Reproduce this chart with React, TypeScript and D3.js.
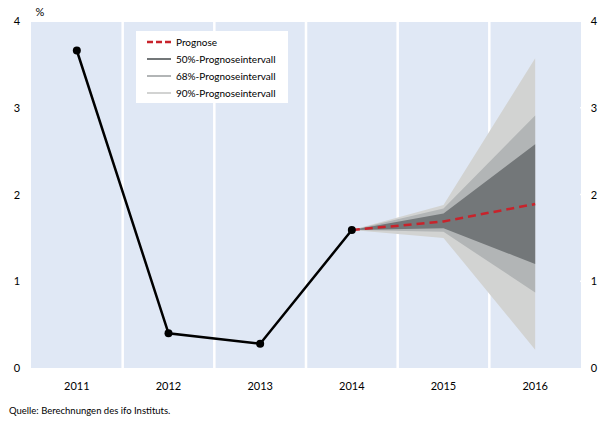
import * as d3 from "d3";
import { useEffect, useRef } from "react";

const years = ["2011", "2012", "2013", "2014", "2015", "2016"];
const actual = [3.66, 0.4, 0.28, 1.59];
const forecastYears = ["2014", "2015", "2016"];
const forecast = [1.59, 1.69, 1.89];
const band90 = [[1.59, 1.59], [1.5, 1.88], [0.21, 3.57]];
const band68 = [[1.59, 1.59], [1.57, 1.84], [0.87, 2.91]];
const band50 = [[1.59, 1.59], [1.61, 1.78], [1.2, 2.58]];
const yTicks = [0, 1, 2, 3, 4];
const legendItems = [
    { label: "Prognose", color: "#c8232b", dash: "6,3" },
    { label: "50%-Prognoseintervall", color: "#737779", dash: null },
    { label: "68%-Prognoseintervall", color: "#b2b5b6", dash: null },
    { label: "90%-Prognoseintervall", color: "#d2d3d2", dash: null },
];

const W = 600;
const H = 421;
const margin = { top: 22, right: 19, bottom: 53, left: 31 };
const font = "Lato, 'Open Sans', sans-serif";

const App = () => {
    const chartRef = useRef(null);

    useEffect(() => {
        const svg = d3.select(chartRef.current);
        svg.selectAll("*").remove();

        const x = d3.scaleBand().domain(years).range([margin.left, W - margin.right]);
        const y = d3.scaleLinear().domain([0, 4]).range([H - margin.bottom, 21]);
        const cx = (d) => x(d) + x.bandwidth() / 2;

        svg.append("rect")
            .attr("x", margin.left)
            .attr("y", margin.top)
            .attr("width", W - margin.left - margin.right)
            .attr("height", H - margin.top - margin.bottom)
            .style("fill", "#e0e8f5");

        // white separators between years
        svg.selectAll(".sep")
            .data(years.slice(1))
            .enter()
            .append("line")
            .attr("x1", d => x(d))
            .attr("x2", d => x(d))
            .attr("y1", margin.top)
            .attr("y2", H - margin.bottom)
            .style("stroke", "#fff")
            .style("stroke-width", 2.5);

        // little white ticks on the right edge
        svg.selectAll(".rtick")
            .data(yTicks.slice(1, 4))
            .enter()
            .append("line")
            .attr("x1", W - margin.right - 1)
            .attr("x2", W - margin.right + 3)
            .attr("y1", d => y(d))
            .attr("y2", d => y(d))
            .style("stroke", "#fff")
            .style("stroke-width", 1.5);

        const bands = [
            { data: band90, color: "#d2d3d2" },
            { data: band68, color: "#b2b5b6" },
            { data: band50, color: "#737779" },
        ];
        bands.forEach(b => {
            const area = d3.area()
                .x((d, i) => cx(forecastYears[i]))
                .y0(d => y(d[0]))
                .y1(d => y(d[1]));
            svg.append("path")
                .attr("d", area(b.data))
                .style("fill", b.color);
        });

        const line = d3.line()
            .x((d, i) => cx(years[i]))
            .y(d => y(d));
        svg.append("path")
            .attr("d", line(actual))
            .style("fill", "none")
            .style("stroke", "#000")
            .style("stroke-width", 2.5);

        const fLine = d3.line()
            .x((d, i) => cx(forecastYears[i]))
            .y(d => y(d));
        svg.append("path")
            .attr("d", fLine(forecast))
            .style("fill", "none")
            .style("stroke", "#c8232b")
            .style("stroke-width", 2.5)
            .style("stroke-dasharray", "8,5");

        svg.selectAll(".dot")
            .data(actual)
            .enter()
            .append("circle")
            .attr("cx", (d, i) => cx(years[i]))
            .attr("cy", d => y(d))
            .attr("r", 4)
            .style("fill", "#000");

        // axis labels
        svg.selectAll(".yl")
            .data(yTicks)
            .enter()
            .append("text")
            .attr("x", 17)
            .attr("y", d => y(d) + 4)
            .attr("text-anchor", "middle")
            .style("font-family", font)
            .style("font-size", "11px")
            .text(d => d);
        svg.selectAll(".yr")
            .data(yTicks)
            .enter()
            .append("text")
            .attr("x", 594)
            .attr("y", d => y(d) + 4)
            .attr("text-anchor", "middle")
            .style("font-family", font)
            .style("font-size", "11px")
            .text(d => d);
        svg.append("text")
            .attr("x", 40)
            .attr("y", 16)
            .attr("text-anchor", "middle")
            .style("font-family", font)
            .style("font-size", "11px")
            .text("%");
        svg.selectAll(".xl")
            .data(years)
            .enter()
            .append("text")
            .attr("x", d => cx(d))
            .attr("y", 390)
            .attr("text-anchor", "middle")
            .style("font-family", font)
            .style("font-size", "11px")
            .text(d => d);
        svg.append("text")
            .attr("x", 9)
            .attr("y", 414)
            .style("font-family", font)
            .style("font-size", "9.5px")
            .text("Quelle: Berechnungen des ifo Instituts.");

        // legend
        const lg = svg.append("g").attr("transform", "translate(136,31)");
        lg.append("rect")
            .attr("width", 152)
            .attr("height", 72)
            .style("fill", "#fff");
        legendItems.forEach((it, i) => {
            const yy = 11 + i * 17;
            lg.append("line")
                .attr("x1", 11)
                .attr("x2", 35)
                .attr("y1", yy)
                .attr("y2", yy)
                .style("stroke", it.color)
                .style("stroke-width", it.dash ? 2.5 : 2)
                .style("stroke-dasharray", it.dash);
            lg.append("text")
                .attr("x", 40)
                .attr("y", yy + 3.5)
                .style("font-family", font)
                .style("font-size", "10px")
                .text(it.label);
        });
    }, []);

    return (
        <svg ref={chartRef} width={W} height={H} style={{ position: "absolute", left: 0, top: 0 }}></svg>
    );
};

export default App;
